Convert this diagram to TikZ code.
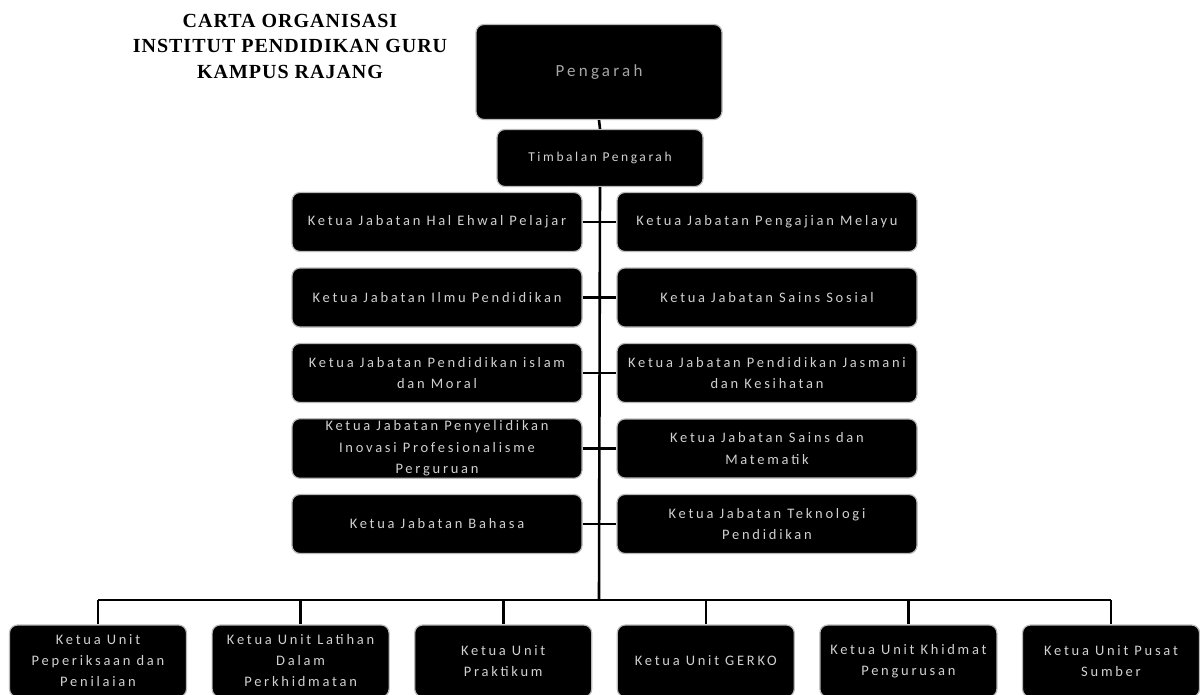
\documentclass[tikz,border=0pt]{standalone}
\usepackage{fontspec}
\setmainfont{Liberation Serif}
\newfontfamily\boxfont[LetterSpace=19]{Carlito}
\newfontfamily\titlefont[LetterSpace=5]{Liberation Serif}
\usetikzlibrary{arrows, positioning, calc}

\begin{document}
\begin{tikzpicture}[x=1pt,y=1pt,node distance=75.5pt,
			main node/.style={rectangle,rounded corners=8pt,fill=black,draw=gray!55,line width=1.2pt,
				text=white!82!black,align=center,inner sep=2pt,font=\boxfont\fontsize{14.5}{21.5}\selectfont},
			left node/.style={main node,minimum width=290pt,minimum height=59pt},
			right node/.style={main node,minimum width=300pt,minimum height=59pt},
			unit node/.style={main node,minimum width=177pt,minimum height=72pt,
				font=\boxfont\fontsize{14.5}{21}\selectfont},
			link/.style={line width=2.6pt}]
			
			\useasboundingbox (0,0) rectangle (1200,-694);
			
			\node[font=\titlefont\bfseries\fontsize{20}{25.5}\selectfont,align=center] (title) at (290,-46)
			{CARTA ORGANISASI\\INSTITUT PENDIDIKAN GURU\\KAMPUS RAJANG};
			
			\node[main node,minimum width=246pt,minimum height=95pt,text=white!65!black,
			font=\boxfont\fontsize{17}{22}\selectfont] (p) at (599,-72) {Pengarah};
			\node[main node,minimum width=206pt,minimum height=57pt,
			font=\boxfont\fontsize{13.5}{20}\selectfont] (tp) at (600,-158) {Timbalan Pengarah};
			
			\node[left node] (l1) at (437,-222) {Ketua Jabatan Hal Ehwal Pelajar};
			\node[left node] (l2) [below of=l1] {Ketua Jabatan Ilmu Pendidikan};
			\node[left node] (l3) [below of=l2] {Ketua Jabatan Pendidikan islam\\dan Moral};
			\node[left node] (l4) [below of=l3] {Ketua Jabatan Penyelidikan\\Inovasi Profesionalisme\\Perguruan};
			\node[left node] (l5) [below of=l4] {Ketua Jabatan Bahasa};
			
			\node[right node] (r1) at (767,-222) {Ketua Jabatan Pengajian Melayu};
			\node[right node] (r2) [below of=r1] {Ketua Jabatan Sains Sosial};
			\node[right node] (r3) [below of=r2] {Ketua Jabatan Pendidikan Jasmani\\dan Kesihatan};
			\node[right node] (r4) [below of=r3] {Ketua Jabatan Sains dan\\Matematik};
			\node[right node] (r5) [below of=r4] {Ketua Jabatan Teknologi\\Pendidikan};
			
			\begin{scope}[node distance=202.6pt]
				\node[unit node] (u1) at (98,-661) {Ketua Unit\\Peperiksaan dan\\Penilaian};
				\node[unit node] (u2) [right of=u1] {Ketua Unit Latihan\\Dalam\\Perkhidmatan};
				\node[unit node] (u3) [right of=u2] {Ketua Unit\\Praktikum};
				\node[unit node] (u4) [right of=u3] {Ketua Unit GERKO};
				\node[unit node] (u5) [right of=u4] {Ketua Unit Khidmat\\Pengurusan};
				\node[unit node] (u6) [right of=u5] {Ketua Unit Pusat\\Sumber};
			\end{scope}
			
			\coordinate (bus) at (599,-600);
			
			\draw[link] (p.south) -- (tp.north);
			\draw[link] (tp.south) -- (bus);
			\foreach \i in {1,...,5}
			\draw[link] (l\i.east) -- (r\i.west);
			\draw[link] (u1.north |- bus) -- (u6.north |- bus);
			\foreach \i in {1,...,6}
			\draw[link] (u\i.north |- bus) -- (u\i.north);
		\end{tikzpicture}
\end{document}
